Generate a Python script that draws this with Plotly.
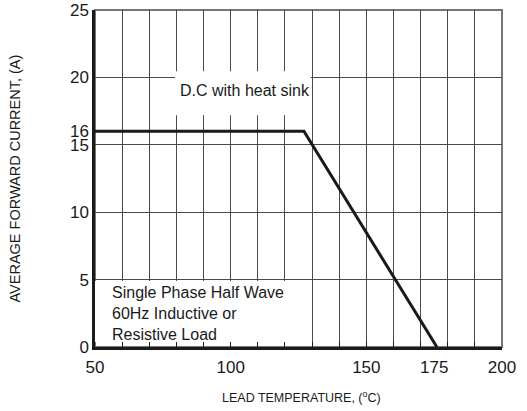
import plotly.graph_objects as go

# Data
lead_temp = [50, 127, 176]          # degC
avg_current = [16, 16, 0]           # A

x_tick_vals = [50, 100, 150, 175, 200]
x_tick_text = ["50", "100", "150", "175", "200"]
y_tick_vals = [0, 5, 10, 15, 16, 20, 25]
y_tick_text = ["0", "5", "10", "15", "16", "20", "25"]

dc_label = "D.C with heat sink"
cond_label = "Single Phase Half Wave<br>60Hz Inductive or<br>Resistive Load"

FONT = "Liberation Sans, Arial, sans-serif"
GRID = "#4a4a4a"

fig = go.Figure()
fig.add_trace(go.Scatter(
    x=lead_temp, y=avg_current, mode="lines",
    line=dict(color="#1a1a1a", width=3),
    showlegend=False, hoverinfo="skip",
))

fig.update_layout(
    width=527, height=411,
    margin=dict(l=95, r=25, t=10, b=64),
    paper_bgcolor="white", plot_bgcolor="white",
    font=dict(family=FONT, size=17, color="#1a1a1a"),
    showlegend=False,
    xaxis=dict(
        range=[50, 200], tick0=50, dtick=10,
        showgrid=True, gridcolor=GRID, gridwidth=1,
        ticks="inside", ticklen=5, tickcolor="#1a1a1a", tickwidth=1,
        showticklabels=False,
        showline=True, linecolor="#1a1a1a", linewidth=3,
        zeroline=False, fixedrange=True, automargin=False,
    ),
    xaxis2=dict(
        overlaying="x", side="bottom", anchor="y",
        range=[50, 200], tickmode="array",
        tickvals=x_tick_vals, ticktext=x_tick_text,
        showgrid=False, ticks="", showline=False, zeroline=False,
        ticklabelstandoff=8,
        tickfont=dict(family=FONT, size=17, color="#1a1a1a"),
        fixedrange=True, automargin=False,
    ),
    yaxis=dict(
        range=[0, 25], tick0=0, dtick=5,
        showgrid=True, gridcolor=GRID, gridwidth=1,
        ticks="", showticklabels=False,
        showline=True, linecolor="#1a1a1a", linewidth=3,
        zeroline=False, fixedrange=True, automargin=False,
    ),
    yaxis2=dict(
        overlaying="y", side="left", anchor="x",
        range=[0, 25], tickmode="array",
        tickvals=y_tick_vals, ticktext=y_tick_text,
        showgrid=False, ticks="", showline=False, zeroline=False,
        ticklabelstandoff=5,
        tickfont=dict(family=FONT, size=17, color="#1a1a1a"),
        fixedrange=True, automargin=False,
    ),
)

# dummy trace so the overlay axes are drawn
fig.add_trace(go.Scatter(x=[None], y=[None], xaxis="x2", yaxis="y2",
                         showlegend=False, hoverinfo="skip"))

# plot frame (top/right thin grey)
fig.add_shape(type="rect", xref="paper", yref="paper", x0=0, x1=1, y0=0, y1=1,
              line=dict(color="#777777", width=2), layer="between")

# white label backgrounds hiding grid
fig.add_shape(type="rect", xref="x", yref="y", x0=79.5, x1=129.5, y0=17.2, y1=20.45,
              fillcolor="white", line=dict(width=0), layer="between")
fig.add_shape(type="rect", xref="x", yref="y", x0=50, x1=129.5, y0=0.38, y1=4.9,
              fillcolor="white", line=dict(width=0), layer="between")

fig.add_annotation(x=105.3, y=19.0, xref="x", yref="y", text=dc_label,
                   showarrow=False, xanchor="center", yanchor="middle",
                   font=dict(family=FONT, size=16, color="#1a1a1a"))
fig.add_annotation(x=55.5, y=2.52, xref="x", yref="y", text=cond_label,
                   showarrow=False, xanchor="left", yanchor="middle", align="left",
                   font=dict(family=FONT, size=16, color="#1a1a1a"))

# axis titles
fig.add_annotation(xref="paper", yref="paper", x=0, y=0.5, xshift=-81,
                   text="AVERAGE FORWARD CURRENT, (A)", textangle=-90,
                   showarrow=False, xanchor="center", yanchor="middle",
                   font=dict(family=FONT, size=14.5, color="#1a1a1a"))
fig.add_annotation(xref="paper", yref="paper", x=0.5, y=0, xshift=3, yshift=-50,
                   text="LEAD TEMPERATURE, (<sup>o</sup>C)",
                   showarrow=False, xanchor="center", yanchor="middle",
                   font=dict(family=FONT, size=12.5, color="#1a1a1a"))

fig.write_html("out.html", config={"displayModeBar": False},
               post_script="document.body.style.margin='0';")
